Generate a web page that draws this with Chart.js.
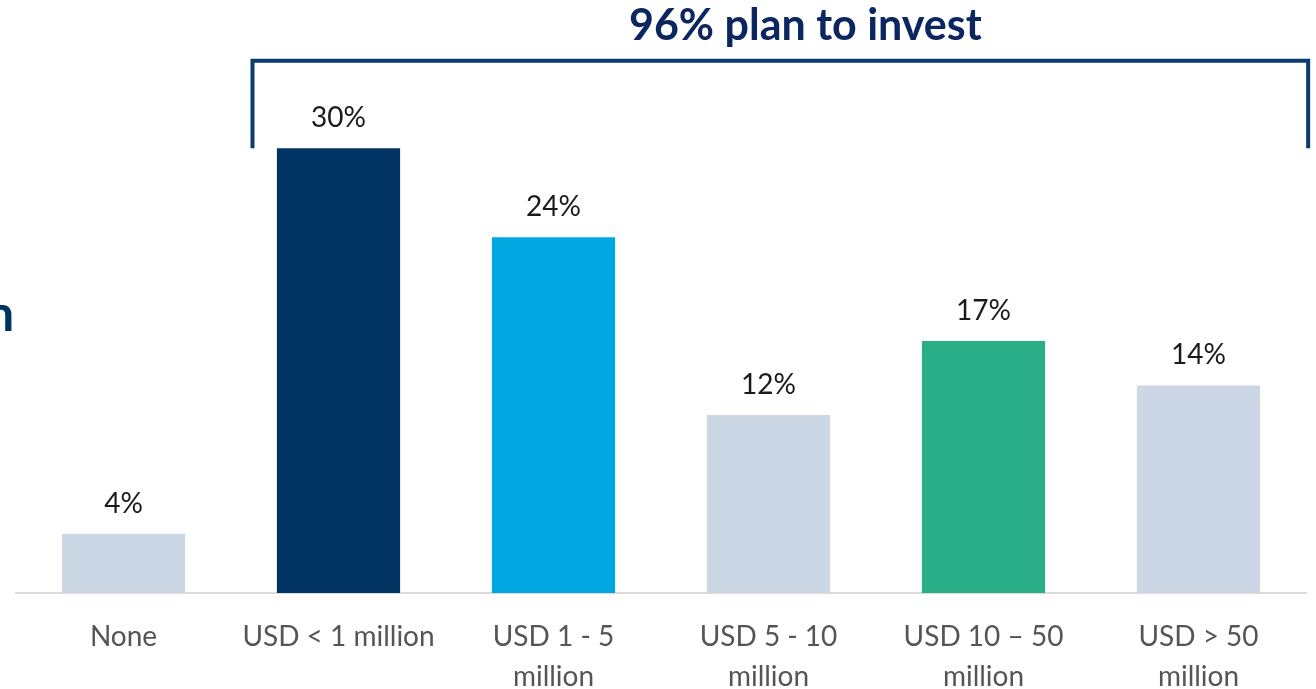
<!DOCTYPE html>
<html>
<head>
<meta charset="utf-8">
<script src="https://cdn.jsdelivr.net/npm/chart.js@4"></script>
<style>
  html, body { margin: 0; padding: 0; background: #ffffff; }
  #wrap { width: 1316px; height: 689px; position: relative; overflow: hidden; }
</style>
</head>
<body>
<div id="wrap"><canvas id="chart" width="1316" height="689"></canvas></div>
<script>
// Investment plans by amount
const categories = [
    'None',
    'USD < 1 million',
    ['USD 1 - 5', 'million'],
    ['USD 5 - 10', 'million'],
    ['USD 10 \u2013 50', 'million'],
    ['USD > 50', 'million']
];
const shares = [4, 30, 24, 12, 17, 14];
const barColors = ['#cbd7e4', '#003362', '#00a7e1', '#cbd7e4', '#2aae87', '#cbd7e4'];
const headline = '96% plan to invest';

const FONT = 'Lato, "Open Sans", sans-serif';

// Labels above bars, bracket and headline
const annotations = {
    id: 'annotations',
    afterDatasetsDraw(chart) {
        const ctx = chart.ctx;
        const x = chart.scales.x;
        const y = chart.scales.y;
        const meta = chart.getDatasetMeta(0);

        ctx.save();
        ctx.fillStyle = '#1a1a1a';
        ctx.font = '28px ' + FONT;
        ctx.textAlign = 'center';
        ctx.textBaseline = 'alphabetic';
        meta.data.forEach((bar, i) => {
            ctx.fillText(shares[i] + '%', bar.x, bar.y - 21);
        });

        // bracket over the investing categories
        const left = x.getPixelForValue(0.6);
        const right = x.getPixelForValue(5.51);
        const top = y.getPixelForValue(35.9);
        const bottom = y.getPixelForValue(30);
        ctx.strokeStyle = '#0a3a6e';
        ctx.lineWidth = 4;
        ctx.lineJoin = 'miter';
        ctx.beginPath();
        ctx.moveTo(left, bottom);
        ctx.lineTo(left, top);
        ctx.lineTo(right, top);
        ctx.lineTo(right, bottom);
        ctx.stroke();

        ctx.fillStyle = '#0b2660';
        ctx.font = 'bold 43px ' + FONT;
        ctx.fillText(headline, (left + right) / 2 + 25, 40);

        // cut-off heading from the neighbouring panel
        ctx.fillStyle = '#003362';
        ctx.font = 'bold 50px ' + FONT;
        ctx.textAlign = 'left';
        ctx.fillText('n', -14, 331);
        ctx.restore();
    }
};

new Chart(document.getElementById('chart'), {
    type: 'bar',
    data: {
        labels: categories,
        datasets: [{
            data: shares,
            backgroundColor: barColors,
            borderWidth: 0,
            categoryPercentage: 1,
            barPercentage: 0.573
        }]
    },
    options: {
        responsive: false,
        animation: false,
        layout: { padding: { left: 16, right: 10, top: 0, bottom: -32 } },
        plugins: {
            legend: { display: false },
            tooltip: { enabled: false }
        },
        scales: {
            x: {
                grid: { display: false, drawTicks: false },
                border: { display: true, color: '#dcdcdc', width: 2 },
                ticks: {
                    color: '#555555',
                    padding: 24,
                    maxRotation: 0,
                    autoSkip: false,
                    font: { family: FONT, size: 28, lineHeight: 1.43 }
                }
            },
            y: {
                display: false,
                min: 0,
                max: 40
            }
        }
    },
    plugins: [annotations]
});
</script>
</body>
</html>
